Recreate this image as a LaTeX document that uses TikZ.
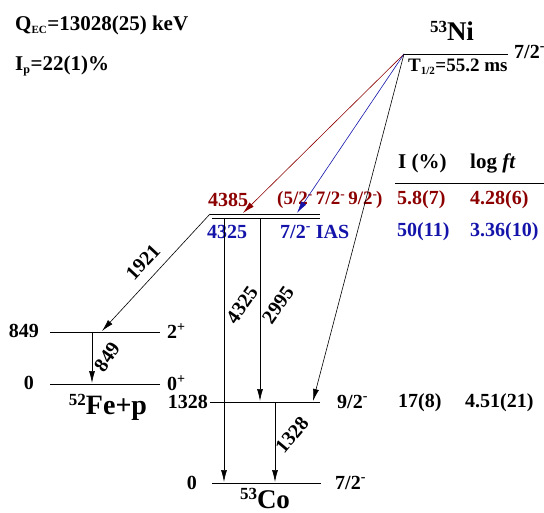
\documentclass[tikz,border=0pt]{standalone}
\usepackage{fontspec}
\setmainfont{Liberation Serif}
\usetikzlibrary{arrows.meta}
\definecolor{dred}{RGB}{140,0,0}
\definecolor{dblue}{RGB}{20,20,170}
\tikzset{
  lvl/.style={line width=0.8pt},
  tr/.style={line width=0.6pt,-{Latex[length=12pt,width=6pt]}},
  lab/.style={font=\bfseries\fontsize{20}{22}\selectfont,inner sep=0pt},
  big/.style={font=\bfseries\fontsize{26}{28}\selectfont,inner sep=0pt},
}
\newcommand{\msup}[1]{\textsuperscript{#1}}
\newcommand{\tsup}[1]{\textsuperscript{#1}\kern-1.5pt\relax}
\begin{document}
\begin{tikzpicture}[x=1pt,y=-1pt]
\useasboundingbox (0,0) rectangle (544,513);
% header texts
\node[lab,anchor=west,font=\bfseries\fontsize{21}{23}\selectfont] (qec) at (15,25) {Q\textsubscript{\fontsize{11}{11}\selectfont EC}=13028(25) keV};
\node[lab,anchor=west,font=\bfseries\fontsize{21}{23}\selectfont] (ip) at (15,66) {I\textsubscript{\fontsize{12}{12}\selectfont p}=22(1)\%};
% Ni
\coordinate (niL) at (404,54);
\coordinate (niR) at (508,54);
\draw[lvl] (niL) -- (niR);
\node[big,anchor=base] (ni) at (452,41) {\fontsize{17}{17}\selectfont\raisebox{1.1ex}{53}\fontsize{27}{29}\selectfont Ni};
\node[lab,anchor=west] (nisp) at (514,52) {7/2\msup{-}};
\node[lab,anchor=west,font=\bfseries\fontsize{19}{21}\selectfont] (thalf) at (408,67) {T\textsubscript{\fontsize{11}{11}\selectfont 1/2}=55.2 ms};
% IAS levels
\coordinate (aL) at (210,214);
\coordinate (aR) at (320,214);
\coordinate (bL) at (212,218);
\coordinate (bR) at (320,218);
\draw[lvl] (aL) -- (aR);
\draw[lvl] (bL) -- (bR);
\node[lab,text=dred,anchor=west] (e4385) at (208,200) {4385};
\node[lab,text=dred,anchor=west,font=\bfseries\fontsize{19}{21}\selectfont] (j4385) at (277,200) {(5/2\tsup{-} 7/2\tsup{-} 9/2\tsup{-})};
\node[lab,text=dblue,anchor=west] (e4325) at (207,232) {4325};
\node[lab,text=dblue,anchor=west] (j4325) at (280,232) {7/2\msup{-}\ IAS};
% table
\node[lab,anchor=west,font=\bfseries\fontsize{21}{23}\selectfont] (hI) at (398,163) {I (\%)};
\node[lab,anchor=west,font=\bfseries\fontsize{21}{23}\selectfont] (hft) at (470,163) {log \textit{ft}};
\coordinate (hl1) at (395,183);
\coordinate (hl2) at (544,183);
\draw[line width=0.7pt] (hl1) -- (hl2);
\node[lab,text=dred,anchor=west] (i1) at (397,200) {5.8(7)};
\node[lab,text=dred,anchor=west] (f1) at (470,200) {4.28(6)};
\node[lab,text=dblue,anchor=west] (i2) at (397,232) {50(11)};
\node[lab,text=dblue,anchor=west] (f2) at (470,232) {3.36(10)};
\node[lab,anchor=west] (i3) at (398,403) {17(8)};
\node[lab,anchor=west] (f3) at (465,403) {4.51(21)};
% Fe levels
\coordinate (f849L) at (50,332);
\coordinate (f849R) at (160,332);
\coordinate (f0L) at (50,384);
\coordinate (f0R) at (160,384);
\draw[lvl] (f849L) -- (f849R);
\draw[lvl] (f0L) -- (f0R);
\node[lab,anchor=east] (l849) at (39,331) {849};
\node[lab,anchor=east] (l0f) at (34,383) {0};
\node[lab,anchor=west] (s849) at (167,331) {2\msup{+}};
\node[lab,anchor=west] (s0f) at (167,383) {0\msup{+}};
\node[big,anchor=base] (fe) at (108,414) {\fontsize{17}{17}\selectfont\raisebox{1.1ex}{52}\fontsize{28}{30}\selectfont Fe+p};
% Co levels
\coordinate (c1328L) at (210,402);
\coordinate (c1328R) at (320,402);
\coordinate (c0L) at (212,483);
\coordinate (c0R) at (321,483);
\draw[lvl] (c1328L) -- (c1328R);
\draw[lvl] (c0L) -- (c0R);
\node[lab,anchor=east] (l1328) at (208,402) {1328};
\node[lab,anchor=east] (l0c) at (197,483) {0};
\node[lab,anchor=west] (s1328) at (337,402) {9/2\msup{-}};
\node[lab,anchor=west] (s0c) at (335,483) {7/2\msup{-}};
\node[big,anchor=base] (co) at (265,508) {\fontsize{17}{17}\selectfont\raisebox{1.1ex}{53}\fontsize{27}{29}\selectfont Co};
% beta feeding
\coordinate (tR) at (243,213);
\coordinate (tB) at (297,213);
\coordinate (tK) at (313,401);
\draw[tr,draw=dred,-{Latex[length=12pt,width=6pt,fill=dred]}] (niL) -- (tR);
\draw[tr,draw=dblue,-{Latex[length=12pt,width=6pt,fill=dblue]}] (niL) -- (tB);
\draw[tr] (niL) -- (tK);
% gamma / proton transitions
\coordinate (g1921e) at (102,331);
\draw[tr] (aL) -- (g1921e);
\node[lab,rotate=47] (t1921) at (143,262) {1921};
\coordinate (g849s) at (92,332);
\coordinate (g849e) at (92,383);
\draw[tr] (g849s) -- (g849e);
\node[lab,rotate=55] (t849) at (107,357) {849};
\coordinate (g4325s) at (224,218);
\coordinate (g4325e) at (224,482);
\draw[tr] (g4325s) -- (g4325e);
\node[lab,rotate=55] (t4325) at (242,305) {4325};
\coordinate (g2995s) at (260,218);
\coordinate (g2995e) at (260,401);
\draw[tr] (g2995s) -- (g2995e);
\node[lab,rotate=55] (t2995) at (278,305) {2995};
\coordinate (g1328s) at (275,402);
\coordinate (g1328e) at (275,482);
\draw[tr] (g1328s) -- (g1328e);
\node[lab,rotate=50] (t1328) at (292,435) {1328};
\end{tikzpicture}
\end{document}
